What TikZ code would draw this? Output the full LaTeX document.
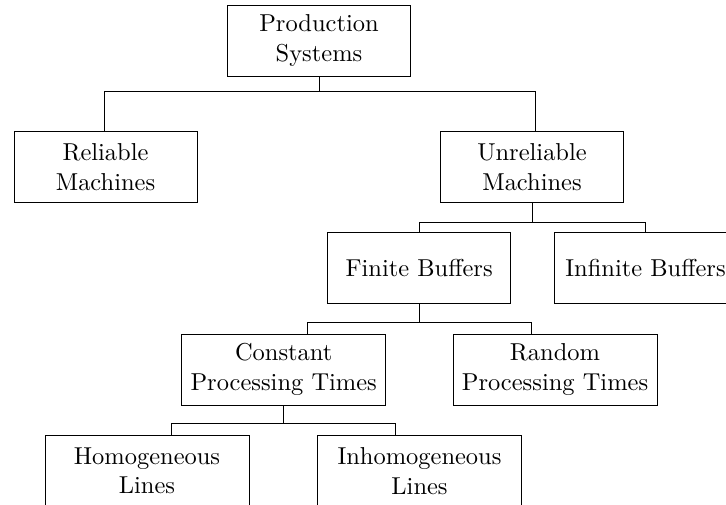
\documentclass[tikz,border=0pt]{standalone}
\usetikzlibrary{calc}
\begin{document}
\begin{tikzpicture}[x=0.4087pt,y=-0.4087pt,
  box/.style={draw, align=center, inner sep=0pt,
    minimum width={183*0.4087pt}, minimum height={71*0.4087pt}},
  widebox/.style={box, minimum width={204*0.4087pt}},
  link/.style={draw, line width=0.4pt}]
\useasboundingbox (0,0) rectangle (726,504);
\clip (0,0) rectangle (726,504);

% classification tree
\node[box]     (ps)  at (319,40.5)   {Production\\Systems};
\node[box]     (rm)  at (105.5,167)  {Reliable\\Machines};
\node[box]     (um)  at (532,167)    {Unreliable\\Machines};
\node[box]     (fb)  at (419.2,268)  {Finite Buffers};
\node[box]     (ib)  at (645.5,268)  {Infinite Buffers};
\node[widebox] (cpt) at (283.7,369.5) {Constant\\Processing Times};
\node[widebox] (rpt) at (555,369.5)   {Random\\Processing Times};
\node[widebox] (hl)  at (147,471)     {Homogeneous\\Lines};
\node[widebox] (il)  at (419.5,471)   {Inhomogeneous\\Lines};

% connectors
\draw[link] (ps.south) -- ++(0,15) -| ($(rm.north)+(-1.5,0)$);
\draw[link] (ps.south) -- ++(0,15) -| ($(um.north)+(3.7,0)$);
\draw[link] (um.south) -- ++(0,19) -| (fb.north);
\draw[link] (um.south) -- ++(0,19) -| (ib.north);
\draw[link] (fb.south) -- ++(0,18.4) -| ($(cpt.north)+(23.3,0)$);
\draw[link] (fb.south) -- ++(0,18.4) -| ($(rpt.north)+(-24,0)$);
\draw[link] (cpt.south) -- ++(0,18.3) -| ($(hl.north)+(24.3,0)$);
\draw[link] (cpt.south) -- ++(0,18.3) -| ($(il.north)+(-23.7,0)$);
\end{tikzpicture}
\end{document}
